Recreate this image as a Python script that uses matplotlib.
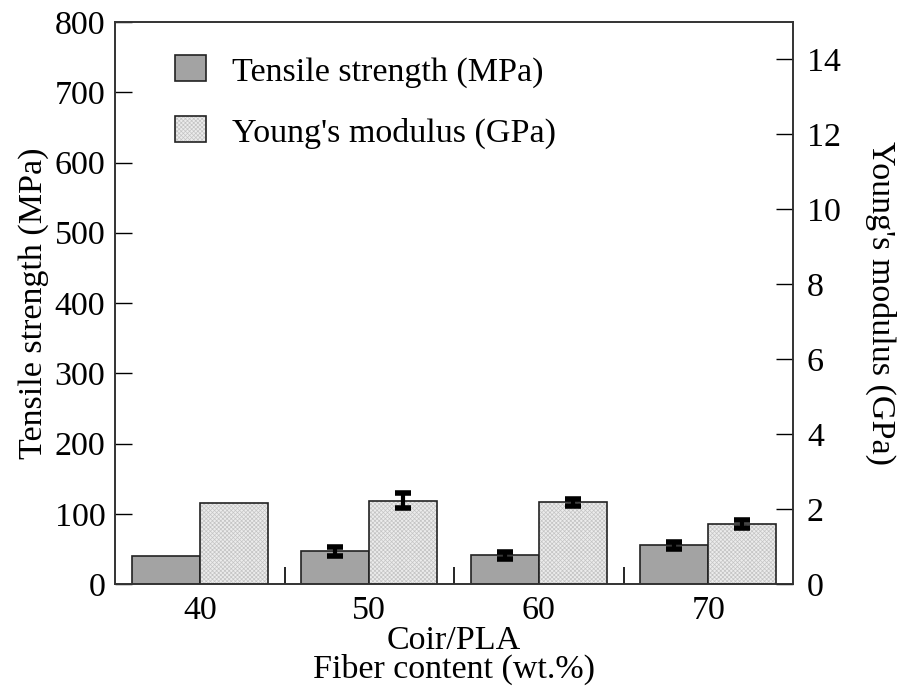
import numpy as np
import matplotlib.pyplot as plt
import matplotlib as mpl

mpl.rcParams['font.family'] = 'Liberation Serif'
mpl.rcParams['hatch.linewidth'] = 0.5

fiber = ['40', '50', '60', '70']
tensile = [40, 46.5, 41, 55]          # MPa
tensile_err = [0, 6, 5, 5]
modulus = [2.16, 2.22, 2.18, 1.60]    # GPa
modulus_err = [0, 0.2, 0.1, 0.1]

fs = 24.5

fig = plt.figure(figsize=(8.99, 6.92), dpi=100)
ax = fig.add_axes([115 / 899, 1 - 584 / 692, (793 - 115) / 899, (584 - 22) / 692])
ax2 = ax.twinx()

x = np.arange(len(fiber))
w = 0.4
b1 = ax.bar(x - w / 2, tensile, w, color='#a3a3a3', edgecolor='#222222', lw=1.2)
# hatch takes the edge colour, so fill and outline are drawn as two layers
b2 = ax2.bar(x + w / 2, modulus, w, color='#ececec', edgecolor='#c4c4c4', lw=0,
             hatch='xxxxxxxx')
b2o = ax2.bar(x + w / 2, modulus, w, fill=False, edgecolor='#222222', lw=1.2)

# error bars (skip zero ones)
for i in range(len(x)):
    if tensile_err[i] > 0:
        ax.errorbar(x[i] - w / 2, tensile[i], yerr=tensile_err[i], fmt='none',
                    ecolor='black', elinewidth=3, capsize=6, capthick=4, zorder=5)
    if modulus_err[i] > 0:
        ax2.errorbar(x[i] + w / 2, modulus[i], yerr=modulus_err[i], fmt='none',
                     ecolor='black', elinewidth=3, capsize=6, capthick=4, zorder=5)

ax.set_xlim(-0.5, 3.5)
ax.set_ylim(0, 800)
ax2.set_ylim(0, 15)
ax.set_yticks(np.arange(0, 801, 100))
ax2.set_yticks(np.arange(0, 15, 2))

ax.set_xticks(x)
ax.set_xticklabels(fiber)
ax.set_xticks([0.5, 1.5, 2.5], minor=True)
ax.tick_params(axis='x', which='major', length=0, labelsize=fs, pad=8)
ax.tick_params(axis='x', which='minor', direction='in', length=12, width=1.2, bottom=True)
ax.tick_params(axis='y', direction='in', length=12, width=1, labelsize=fs, pad=7)
ax2.tick_params(axis='y', direction='in', length=12, width=1, labelsize=fs, pad=10)

for a in (ax, ax2):
    for s in a.spines.values():
        s.set_linewidth(1.2)
        s.set_color('#333333')

ax.set_xlabel('Coir/PLA\nFiber content (wt.%)', fontsize=fs, linespacing=0.9, labelpad=0)
ax.set_ylabel('Tensile strength (MPa)', fontsize=fs, labelpad=4)
ax2.set_ylabel("Young's modulus (GPa)", fontsize=fs, rotation=-90, labelpad=40)

ax.legend([b1[0], (b2[0], b2o[0])], ['Tensile strength (MPa)', "Young's modulus (GPa)"],
          loc='upper left', bbox_to_anchor=(0.044, 0.995), frameon=False,
          fontsize=fs, handlelength=0.9, handleheight=0.8, handletextpad=0.75,
          labelspacing=0.85)

fig.savefig('out.png', dpi=100)
